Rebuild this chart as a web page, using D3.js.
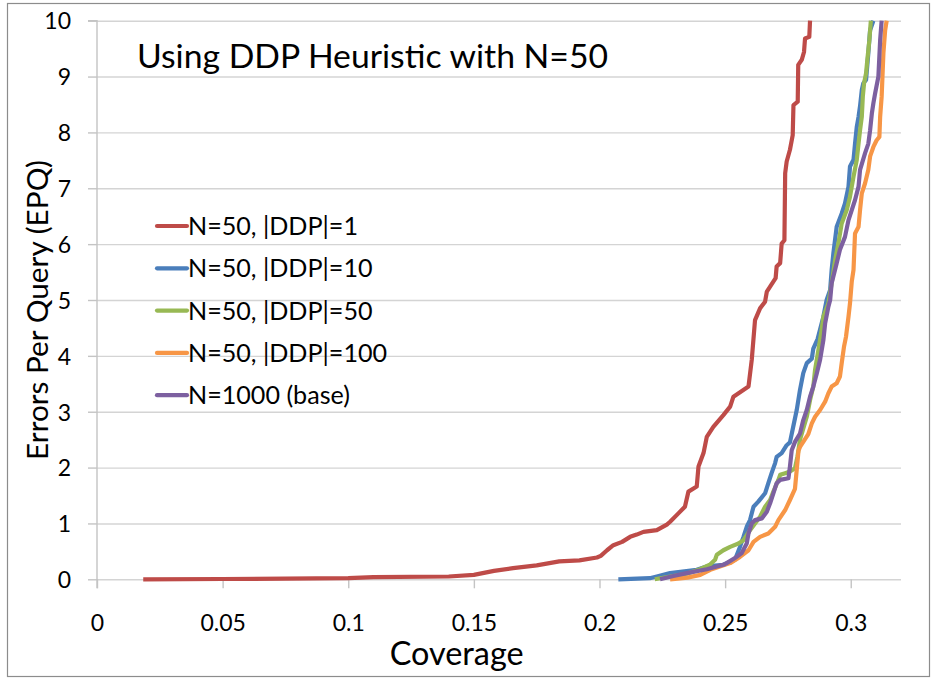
<!DOCTYPE html>
<html><head><meta charset="utf-8">
<script src="https://cdn.jsdelivr.net/npm/d3@7"></script>
<style>
html,body{margin:0;padding:0;background:#fff;}
svg{display:block;font-family:Lato,"Open Sans",sans-serif;}
</style></head>
<body>
<svg id="chart" width="937" height="679"></svg>
<script>
// ---- data ----
const seriesNames = ["N=50, |DDP|=1","N=50, |DDP|=10","N=50, |DDP|=50","N=50, |DDP|=100","N=1000 (base)"];
const seriesColors = ["#BE4B48","#4A7EBB","#98B954","#F79646","#7D60A0"];
const ddp1 = [[0.0184,0],[0.05,0.005],[0.1,0.02],[0.11,0.04],[0.14,0.05],[0.15,0.08],[0.158,0.15],[0.1656,0.2],[0.175,0.25],[0.184,0.32],[0.192,0.34],[0.199,0.39],[0.2005,0.42],[0.203,0.52],[0.2055,0.61],[0.209,0.67],[0.2122,0.76],[0.2148,0.8],[0.2175,0.85],[0.2228,0.88],[0.2268,0.98],[0.2281,1.03],[0.2314,1.18],[0.234,1.3],[0.2354,1.57],[0.2387,1.66],[0.2394,2.02],[0.2414,2.26],[0.2427,2.55],[0.2453,2.73],[0.2493,2.94],[0.252,3.09],[0.2533,3.27],[0.2593,3.45],[0.2606,3.93],[0.2619,4.64],[0.2639,4.85],[0.2659,4.97],[0.2666,5.15],[0.2679,5.24],[0.2701,5.39],[0.2705,5.6],[0.2719,5.66],[0.2725,6.01],[0.2736,6.07],[0.2739,7.27],[0.2745,7.48],[0.2758,7.69],[0.2769,7.95],[0.2772,8.49],[0.2789,8.55],[0.2791,9.21],[0.2805,9.3],[0.2814,9.44],[0.2818,9.68],[0.2835,9.71],[0.2838,10]];
const ddp10 = [[0.2075,0],[0.22,0.02],[0.2228,0.05],[0.2281,0.11],[0.2387,0.17],[0.2427,0.23],[0.2493,0.26],[0.2539,0.35],[0.2559,0.58],[0.2573,0.76],[0.2586,0.94],[0.2599,1.06],[0.2613,1.3],[0.2632,1.39],[0.2659,1.54],[0.2672,1.72],[0.2685,1.9],[0.2699,2.08],[0.2705,2.19],[0.2725,2.26],[0.2745,2.4],[0.2758,2.45],[0.2771,2.73],[0.2785,3.03],[0.2798,3.39],[0.2811,3.69],[0.2825,3.87],[0.2845,3.95],[0.2851,4.13],[0.2868,4.3],[0.2891,4.7],[0.2904,5.0],[0.2918,5.18],[0.2924,5.54],[0.2931,5.84],[0.2944,6.31],[0.2964,6.55],[0.2977,6.73],[0.2991,7.03],[0.2997,7.39],[0.3011,7.51],[0.3017,7.8],[0.3024,8.1],[0.3031,8.28],[0.3037,8.47],[0.3044,8.76],[0.305,8.88],[0.3061,8.94],[0.307,9.42],[0.3077,9.83],[0.309,10]];
const ddp50 = [[0.222,0],[0.2281,0.05],[0.2347,0.1],[0.24,0.18],[0.2439,0.26],[0.246,0.35],[0.2467,0.44],[0.2493,0.52],[0.252,0.58],[0.2553,0.64],[0.2573,0.7],[0.2599,0.88],[0.2619,1.0],[0.2639,1.12],[0.2659,1.3],[0.2679,1.42],[0.2692,1.57],[0.2712,1.78],[0.2719,1.87],[0.2739,1.9],[0.2758,1.93],[0.2778,1.99],[0.2788,2.2],[0.2798,2.5],[0.2808,2.65],[0.2825,2.91],[0.2838,3.21],[0.2851,3.45],[0.2858,3.75],[0.2871,4.1],[0.2884,4.46],[0.2891,4.7],[0.2911,4.94],[0.2924,5.3],[0.2938,5.72],[0.2951,6.02],[0.2964,6.37],[0.2984,6.61],[0.2997,6.85],[0.3011,7.21],[0.3024,7.51],[0.3031,7.8],[0.3037,8.04],[0.3044,8.28],[0.3048,8.64],[0.3053,8.88],[0.3061,9.06],[0.3066,9.3],[0.3074,9.65],[0.308,10]];
const ddp100 = [[0.2281,0],[0.235,0.03],[0.2401,0.08],[0.2441,0.17],[0.252,0.29],[0.2559,0.4],[0.2593,0.52],[0.2613,0.67],[0.2639,0.76],[0.2672,0.82],[0.2699,0.94],[0.2712,1.06],[0.2739,1.24],[0.2758,1.42],[0.2778,1.62],[0.2785,1.96],[0.2792,2.3],[0.2798,2.37],[0.2811,2.46],[0.2831,2.6],[0.2845,2.79],[0.2858,2.91],[0.2878,3.03],[0.2898,3.18],[0.2911,3.33],[0.2924,3.45],[0.2944,3.51],[0.2957,3.63],[0.2964,3.87],[0.2973,4.16],[0.2981,4.34],[0.2991,4.7],[0.2997,4.94],[0.3004,5.33],[0.3011,5.54],[0.3017,6.19],[0.3031,6.31],[0.3037,6.61],[0.3044,6.91],[0.3057,7.09],[0.307,7.33],[0.3077,7.57],[0.309,7.74],[0.3103,7.86],[0.3114,7.92],[0.3117,8.28],[0.3123,8.64],[0.313,9.42],[0.3137,9.83],[0.3143,10]];
const base1000 = [[0.2241,0],[0.2294,0.06],[0.2347,0.11],[0.2427,0.18],[0.2493,0.26],[0.2506,0.29],[0.2539,0.38],[0.2566,0.47],[0.2586,0.64],[0.2593,0.82],[0.2606,1.0],[0.2619,1.06],[0.2646,1.09],[0.2666,1.21],[0.2679,1.36],[0.2692,1.54],[0.2705,1.72],[0.2719,1.78],[0.2752,1.81],[0.2758,2.02],[0.2765,2.31],[0.2778,2.46],[0.2798,2.61],[0.2811,2.85],[0.2825,3.03],[0.2838,3.27],[0.2851,3.45],[0.2865,3.69],[0.2878,3.93],[0.2891,4.28],[0.2898,4.58],[0.2911,4.88],[0.2918,5.0],[0.2924,5.3],[0.2944,5.66],[0.2957,5.9],[0.2977,6.13],[0.2991,6.43],[0.3004,6.61],[0.3017,6.79],[0.3031,7.03],[0.3037,7.33],[0.3057,7.63],[0.307,7.8],[0.3077,8.04],[0.3084,8.34],[0.309,8.52],[0.3097,8.7],[0.311,9.0],[0.3117,9.65],[0.3123,10]];
const seriesData = [ddp1, ddp10, ddp50, ddp100, base1000];
const xTicks = [0,0.05,0.1,0.15,0.2,0.25,0.3];
const xTickLabels = ["0","0.05","0.1","0.15","0.2","0.25","0.3"];
const yTicks = [0,1,2,3,4,5,6,7,8,9,10];
const chartTitle = "Using DDP Heuristic with N=50";
const xTitle = "Coverage";
const yTitle = "Errors Per Query (EPQ)";

// ---- layout ----
const svg = d3.select("#chart");
const L = 97, R = 901, T = 20.7, B = 579.3;
const x = d3.scaleLinear().domain([0, 0.32]).range([L, R]);
const y = d3.scaleLinear().domain([0, 10]).range([B, T]);
const axisColor = "#c4c4c4";

function fitWidth(sel, target){
  const w = sel.node().getComputedTextLength();
  const fs = parseFloat(sel.attr("font-size"));
  if (w > 0) sel.attr("font-size", (fs * target / w).toFixed(2));
}

// outer frame
svg.append("rect").attr("x",7.5).attr("y",3.5).attr("width",922).attr("height",673)
  .attr("fill","#fff").attr("stroke","#8c8c8c").attr("stroke-width",1.2);

// horizontal gridlines
svg.append("g").attr("transform",`translate(${L},0)`)
  .call(d3.axisLeft(y).tickValues(yTicks).tickSize(-(R - L)).tickFormat(""))
  .call(g => g.select(".domain").remove())
  .call(g => g.selectAll("line").attr("stroke","#d4d4d4").attr("stroke-width",1.4));

// y axis with ticks
const yAxis = svg.append("g").attr("transform",`translate(${L},0)`)
  .call(d3.axisLeft(y).tickValues(yTicks).tickSize(9).tickPadding(17).tickFormat(d3.format("d")));
yAxis.select(".domain").attr("stroke",axisColor).attr("stroke-width",1.4).attr("d",`M-9,${T}H0V${B + 9}`);
yAxis.selectAll(".tick line").attr("stroke",axisColor).attr("stroke-width",1.4);
yAxis.selectAll(".tick text").attr("font-family","Lato").attr("font-size",23).attr("fill","#000").attr("dy","0.36em");

// x axis
const xAxis = svg.append("g").attr("transform",`translate(0,${B})`)
  .call(d3.axisBottom(x).tickValues(xTicks).tickSize(9).tickPadding(0).tickFormat((d,i) => xTickLabels[i]));
xAxis.select(".domain").remove();
xAxis.selectAll(".tick line").attr("stroke",axisColor).attr("stroke-width",1.4);
xAxis.selectAll(".tick text").attr("font-family","Lato").attr("font-size",23).attr("fill","#000")
  .attr("y",51.5).attr("dy",0);

// lines
svg.append("defs").append("clipPath").attr("id","clip")
  .append("rect").attr("x",L - 5).attr("y",T - 1).attr("width",R - L + 10).attr("height",B - T + 6);
const line = d3.line().x(d => x(d[0])).y(d => y(d[1]));
svg.append("g").attr("clip-path","url(#clip)")
  .selectAll("path").data(seriesData).join("path")
  .attr("d", line).attr("fill","none")
  .attr("stroke",(d,i) => seriesColors[i]).attr("stroke-width",4.2)
  .attr("stroke-linejoin","round").attr("stroke-linecap","butt");

// legend
const legend = svg.append("g");
seriesNames.forEach((name,i) => {
  const by = 235 + i * 42.3;
  legend.append("line").attr("x1",157).attr("x2",187).attr("y1",by - 9).attr("y2",by - 9)
    .attr("stroke",seriesColors[i]).attr("stroke-width",4.2).attr("stroke-linecap","round");
  legend.append("text").attr("x",188).attr("y",by).attr("font-size",22)
    .attr("font-family","Lato").attr("fill","#000").text(name);
});
{
  const first = legend.select("text");
  const w0 = first.node().getComputedTextLength();
  const s = 170 / w0;
  legend.selectAll("text").attr("font-size",(22*s).toFixed(2));
}

// title
const tt = svg.append("text").attr("x",137).attr("y",68).attr("font-size",32)
  .attr("font-family","Lato").attr("fill","#000").text(chartTitle);
fitWidth(tt, 471);

// x title
const xt = svg.append("text").attr("x",456.7).attr("y",665).attr("text-anchor","middle")
  .attr("font-size",28).attr("font-family","Lato").attr("fill","#000").text(xTitle);
fitWidth(xt, 134);

// y title
const yt = svg.append("text").attr("transform","translate(48,310) rotate(-90)").attr("text-anchor","middle")
  .attr("font-size",26).attr("font-family","Lato").attr("fill","#000").text(yTitle);
fitWidth(yt, 300);
</script>
</body></html>
